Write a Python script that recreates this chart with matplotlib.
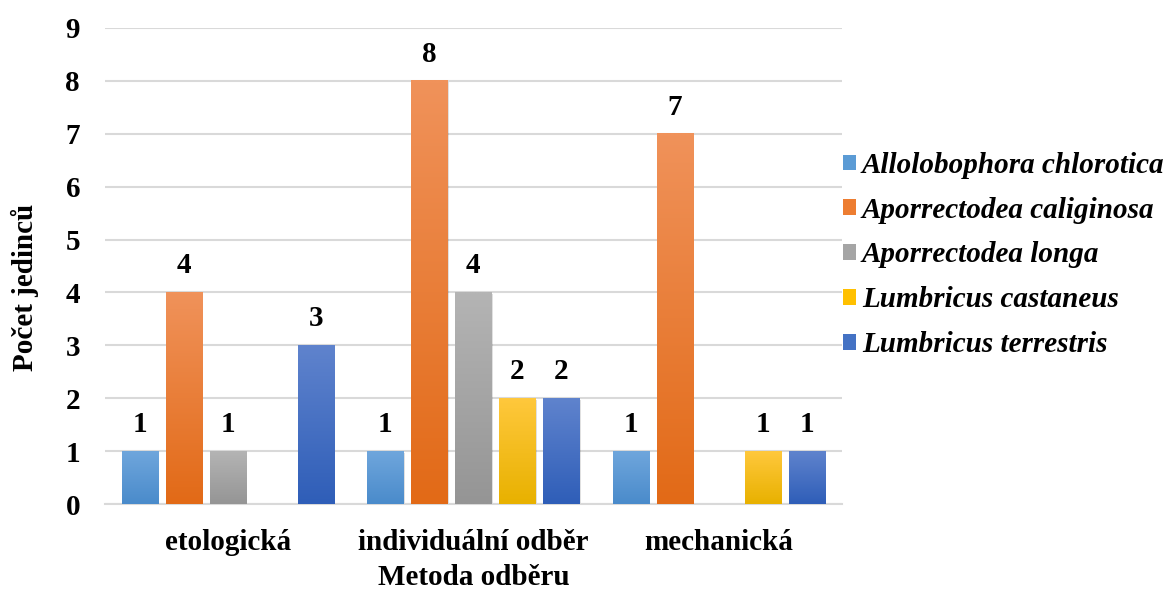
import numpy as np
import matplotlib
matplotlib.use("Agg")
import matplotlib.pyplot as plt
from matplotlib.patches import Patch
from matplotlib.colors import to_rgb

plt.rcParams['font.family'] = ['Liberation Serif', 'DejaVu Serif']

categories = ["etologická", "individuální odběr", "mechanická"]
species = ["Allolobophora chlorotica", "Aporrectodea caliginosa", "Aporrectodea longa",
           "Lumbricus castaneus", "Lumbricus terrestris"]
allolobophora_chlorotica = [1, 1, 1]
aporrectodea_caliginosa = [4, 8, 7]
aporrectodea_longa = [1, 4, None]
lumbricus_castaneus = [None, 2, 1]
lumbricus_terrestris = [3, 2, 1]
series = [allolobophora_chlorotica, aporrectodea_caliginosa, aporrectodea_longa,
          lumbricus_castaneus, lumbricus_terrestris]

# (top, bottom) gradient colours for each series
grad_colors = [("#6FA6DC", "#4A8BCB"),
               ("#F0925A", "#E26A17"),
               ("#B4B4B4", "#959595"),
               ("#FFC83C", "#E8B100"),
               ("#5F83CD", "#2F5EB8")]
legend_colors = ["#5B9BD5", "#ED7D31", "#A5A5A5", "#FFC000", "#4472C4"]

FS = 21
W, H = 1171, 593

fig = plt.figure(figsize=(W / 100, H / 100), dpi=100)
ax = fig.add_axes([0.0897, 0.150, 0.629, 0.803])

slot = 0.179
width = 0.147
x = np.arange(len(categories))

for i, (vals, (ctop, cbot)) in enumerate(zip(series, grad_colors)):
    offs = (i - 2) * slot
    ct = np.array(to_rgb(ctop))
    cb = np.array(to_rgb(cbot))
    t = np.linspace(0, 1, 64)[:, None]
    img = (ct * (1 - t) + cb * t)[:, None, :]
    for j, v in enumerate(vals):
        if v is None:
            continue
        xc = x[j] + offs
        # soft shadow
        ax.bar(xc + 0.006, v, width=width, bottom=-0.03, color="#000000", alpha=0.12,
               zorder=2, linewidth=0)
        ax.imshow(img, extent=(xc - width / 2, xc + width / 2, 0, v), aspect='auto',
                  zorder=3, interpolation='bilinear')
        ax.text(xc, v + 0.5, str(v), ha='center', va='center', fontsize=FS,
                fontweight='bold', zorder=4)

ax.set_xlim(-0.5, 2.5)
ax.set_ylim(0, 9)
ax.set_yticks(range(0, 10))
ax.set_xticks(x)
ax.set_xticklabels(categories, fontsize=FS, fontweight='bold')
for lab in ax.get_yticklabels():
    lab.set_fontsize(FS)
    lab.set_fontweight('bold')
ax.tick_params(axis='both', length=0)
ax.tick_params(axis='x', pad=18)
ax.tick_params(axis='y', pad=18)
ax.yaxis.grid(True, color="#D9D9D9", linewidth=1.5, zorder=0)
ax.set_axisbelow(True)
for s in ['top', 'right', 'left']:
    ax.spines[s].set_visible(False)
ax.spines['bottom'].set_color("#D9D9D9")
ax.spines['bottom'].set_linewidth(1.5)

# axis titles
fig.text(474 / W, 1 - 585 / H, "Metoda odběru", fontsize=FS, fontweight='bold',
         ha='center', va='baseline')
fig.text(25 / W, 1 - 287 / H, "Počet jedinců", fontsize=FS, fontweight='bold',
         ha='center', va='center', rotation=90)

handles = [Patch(facecolor=c, edgecolor='none') for c in legend_colors]
leg = fig.legend(handles, species, loc='center left', bbox_to_anchor=(843 / W, 1 - 255 / H),
                 frameon=False, borderpad=0, borderaxespad=0,
                 handlelength=0.45, handleheight=0.45, handletextpad=0.2,
                 labelspacing=0.61,
                 prop={'family': 'Liberation Serif', 'style': 'italic', 'weight': 'bold',
                       'size': FS})

fig.savefig("out.png", dpi=100)
